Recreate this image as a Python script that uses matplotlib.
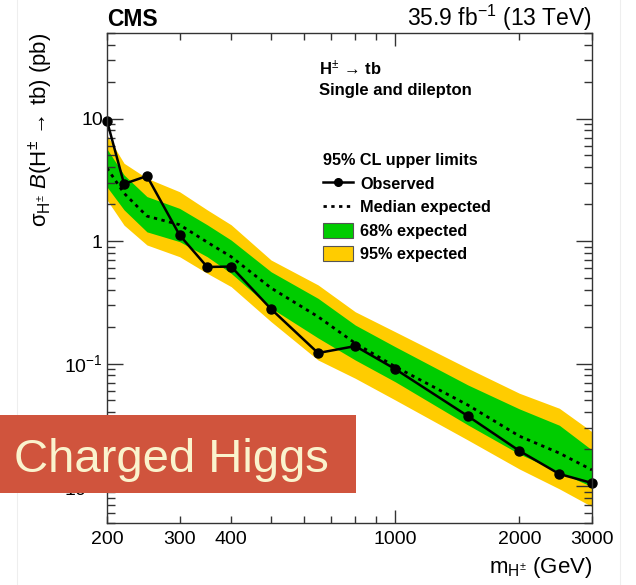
import matplotlib
matplotlib.use("Agg")
import matplotlib.pyplot as plt
from matplotlib.lines import Line2D
from matplotlib.patches import Patch, Rectangle

plt.rcParams['font.family'] = 'Liberation Sans'
plt.rcParams['mathtext.fontset'] = 'custom'
plt.rcParams['mathtext.rm'] = 'Liberation Sans'
plt.rcParams['mathtext.it'] = 'Liberation Sans:italic'
plt.rcParams['mathtext.bf'] = 'Liberation Sans:bold'

# charged Higgs mass points (GeV)
mass = [200, 220, 250, 300, 350, 400, 500, 650, 800, 1000, 1500, 2000, 2500, 3000]
# 95% CL limits on sigma x B (pb)
observed = [9.6, 2.93, 3.4, 1.12, 0.615, 0.62, 0.279, 0.122, 0.139, 0.0903,
            0.0373, 0.0194, 0.01256, 0.0106]
exp_median = [3.95, 2.46, 1.60, 1.36, 0.98, 0.746, 0.414, 0.2415, 0.1466, 0.0944,
              0.0459, 0.0256, 0.0186, 0.01355]
exp_p1 = [5.65, 3.47, 2.31, 1.85, 1.36, 1.02, 0.562, 0.341, 0.2065, 0.1374,
          0.067, 0.0427, 0.0314, 0.0197]
exp_m1 = [2.77, 1.80, 1.19, 0.99, 0.746, 0.546, 0.284, 0.162, 0.107, 0.0711,
          0.0316, 0.0183, 0.0130, 0.00989]
exp_p2 = [7.35, 4.32, 3.26, 2.53, 1.80, 1.36, 0.701, 0.439, 0.265, 0.182,
          0.0916, 0.0573, 0.0432, 0.0278]
exp_m2 = [2.17, 1.35, 0.93, 0.746, 0.546, 0.425, 0.22, 0.107, 0.0759, 0.0505,
          0.0238, 0.0138, 0.0095, 0.0068]

x_minor = [200, 300, 400, 500, 600, 700, 800, 900, 2000, 3000]
x_minor_labels = ['200', '300', '400', '', '', '', '', '', '2000', '3000']
y_major = [0.01, 0.1, 1, 10]
y_major_labels = [r'$10^{-2}$', r'$10^{-1}$', '1', '10']

YELLOW = '#FFCC00'
GREEN = '#00CC00'
AXCOL = '#333333'

fig = plt.figure(figsize=(6.36, 5.85), dpi=100)
ax = fig.add_axes([0.1682, 0.106, 0.7626, 0.8376])

ax.fill_between(mass, exp_m2, exp_p2, color=YELLOW, lw=0)
ax.fill_between(mass, exp_m1, exp_p1, color=GREEN, lw=0)
ax.plot(mass, exp_median, color='black', lw=2.0, ls=(0, (1.2, 1.6)))
ax.plot(mass, observed, color='black', lw=1.8, marker='o', ms=6.5, clip_on=False)

ax.set_xscale('log')
ax.set_yscale('log')
ax.set_xlim(200, 3000)
ax.set_ylim(0.005, 50)

ax.set_xticks([1000], labels=['1000'])
ax.set_xticks(x_minor, labels=x_minor_labels, minor=True)
ax.set_yticks(y_major, labels=y_major_labels)
ax.tick_params(which='both', direction='in', top=True, right=True,
               colors=AXCOL, labelcolor='black', labelsize=14, width=1.0)
ax.tick_params(axis='x', which='major', length=9.5, pad=6)
ax.tick_params(axis='x', which='minor', length=5, pad=6)
ax.tick_params(axis='y', which='major', length=11.5, pad=3)
ax.tick_params(axis='y', which='minor', length=6)
for s in ax.spines.values():
    s.set_color(AXCOL)
    s.set_linewidth(1.0)

ax.set_xlabel(r'm$_{\mathrm{H}^{\pm}}$ (GeV)', fontsize=16, loc='right')
ax.xaxis.set_label_coords(1.0, -0.066)
ax.set_ylabel(r'σ$_{\mathrm{H}^{\pm}}$ $\mathit{B}$(H$^{\pm}\,\rightarrow\,$tb) (pb)',
              fontsize=16, loc='top')
ax.yaxis.set_label_coords(-0.108, 1.0)

fig.text(0.1682, 0.955, 'CMS', fontsize=16.5, fontweight='bold', ha='left', va='baseline')
fig.text(0.9308, 0.955, r'35.9 fb$^{-1}$ (13 TeV)', fontsize=16.5, ha='right', va='baseline')
fig.text(0.502, 0.872, r'$\mathbf{H}^{\pm}\,\rightarrow\,\mathbf{tb}$', fontsize=12,
         ha='left', va='baseline')
fig.text(0.502, 0.838, 'Single and dilepton', fontsize=12, fontweight='bold',
         ha='left', va='baseline')

handles = [Line2D([], [], color='black', lw=1.8, marker='o', ms=5.5),
           Line2D([], [], color='black', lw=2.0, ls=(0, (1.2, 1.6))),
           Patch(facecolor=GREEN, edgecolor='#555555', lw=0.8),
           Patch(facecolor=YELLOW, edgecolor='#555555', lw=0.8)]
labels = ['Observed', 'Median expected', '68% expected', '95% expected']
leg = ax.legend(handles, labels, title='95% CL upper limits', loc='upper left',
                bbox_to_anchor=(0.508, 0.739), bbox_transform=fig.transFigure,
                frameon=False, borderpad=0, borderaxespad=0, alignment='left',
                handlelength=1.85, handleheight=1.0, handletextpad=0.45,
                labelspacing=0.47, prop={'size': 11.7, 'weight': 'bold'},
                title_fontproperties={'size': 11.7, 'weight': 'bold'})
leg._legend_box.sep = 6

# red banner overlay
fig.patches.append(Rectangle((0.0, 0.157), 0.56, 0.1335, transform=fig.transFigure,
                             facecolor='#D0543D', edgecolor='none', zorder=10))
fig.text(0.022, 0.193, 'Charged Higgs', fontsize=34, color='#FAF3CD',
         ha='left', va='baseline', zorder=11)

# faint page frame
for xf in (0.027, 0.975):
    fig.add_artist(Line2D([xf, xf], [0, 1], transform=fig.transFigure,
                          color='#EEEEEE', lw=0.8, zorder=0))

fig.savefig('out.png', dpi=100)
